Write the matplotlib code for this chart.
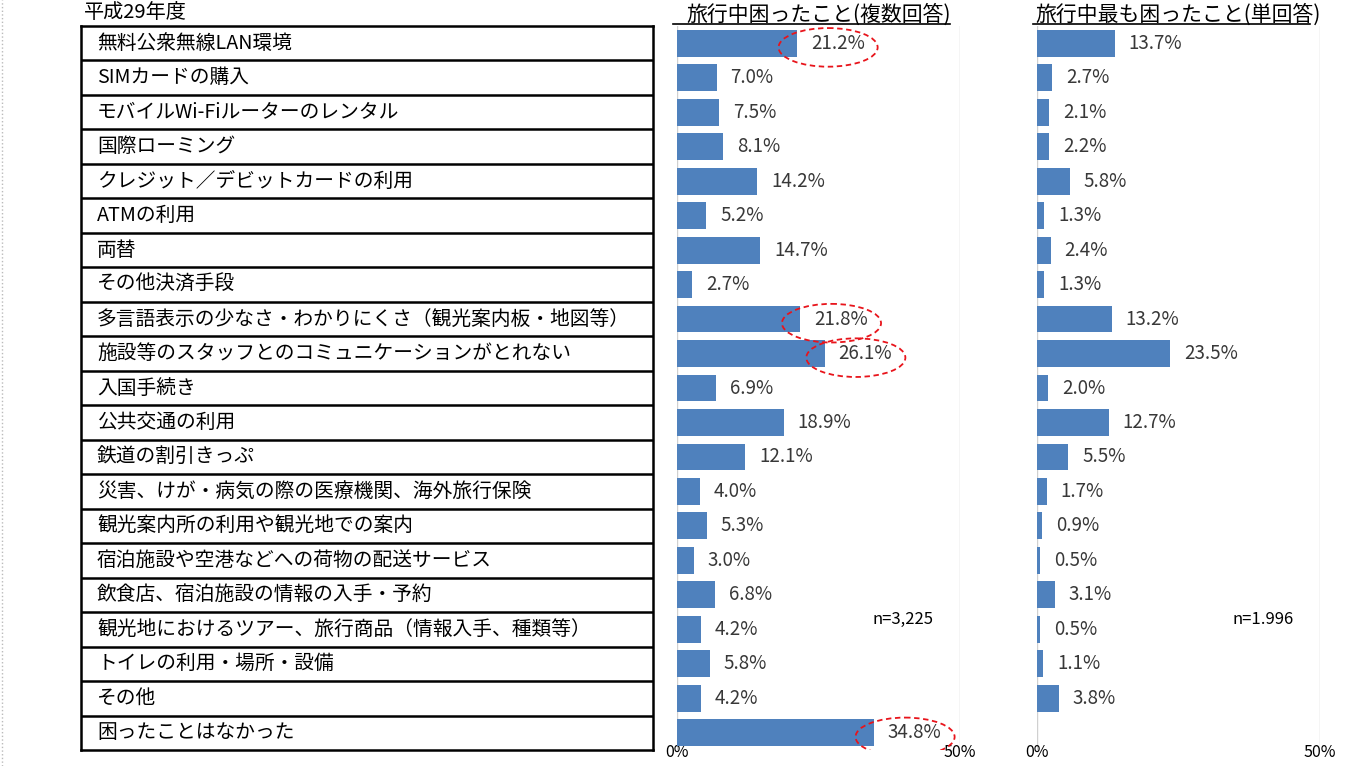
"""Recreate the 平成29年度 travel-trouble bar chart (multi / single answer)."""

import matplotlib.pyplot as plt
from matplotlib.patches import Ellipse
from matplotlib.lines import Line2D

plt.rcParams["font.family"] = ["Noto Sans CJK JP", "DejaVu Sans"]

YEAR_TITLE = "平成29年度"
TITLE_MULTI = "旅行中困ったこと(複数回答)"
TITLE_SINGLE = "旅行中最も困ったこと(単回答)"
N_MULTI = "n=3,225"
N_SINGLE = "n=1.996"

categories = [
    "無料公衆無線LAN環境",
    "SIMカードの購入",
    "モバイルWi-Fiルーターのレンタル",
    "国際ローミング",
    "クレジット／デビットカードの利用",
    "ATMの利用",
    "両替",
    "その他決済手段",
    "多言語表示の少なさ・わかりにくさ（観光案内板・地図等）",
    "施設等のスタッフとのコミュニケーションがとれない",
    "入国手続き",
    "公共交通の利用",
    "鉄道の割引きっぷ",
    "災害、けが・病気の際の医療機関、海外旅行保険",
    "観光案内所の利用や観光地での案内",
    "宿泊施設や空港などへの荷物の配送サービス",
    "飲食店、宿泊施設の情報の入手・予約",
    "観光地におけるツアー、旅行商品（情報入手、種類等）",
    "トイレの利用・場所・設備",
    "その他",
    "困ったことはなかった",
]
multi_values = [21.2, 7.0, 7.5, 8.1, 14.2, 5.2, 14.7, 2.7, 21.8, 26.1, 6.9,
                18.9, 12.1, 4.0, 5.3, 3.0, 6.8, 4.2, 5.8, 4.2, 34.8]
single_values = [13.7, 2.7, 2.1, 2.2, 5.8, 1.3, 2.4, 1.3, 13.2, 23.5, 2.0,
                 12.7, 5.5, 1.7, 0.9, 0.5, 3.1, 0.5, 1.1, 3.8]
# rows of the multi-answer chart whose labels are circled in red
highlight_rows = [0, 8, 9, 20]

BAR_COLOR = "#4F81BD"
GRID_COLOR = "#D0D0D0"
W, H = 1367, 766


def fig_rect(x0, y0, x1, y1):
    """Pixel box (top-left origin) -> figure fraction rect."""
    return [x0 / W, 1 - y1 / H, (x1 - x0) / W, (y1 - y0) / H]


def draw_bars(ax, values, title, n_text, highlights=()):
    n_rows = len(categories)
    rows = list(range(len(values)))
    ax.barh(rows, values, height=0.78, color=BAR_COLOR, zorder=2)
    ax.set_xlim(0, 50)
    ax.set_ylim(n_rows - 0.5, -0.5)
    for x in (0, 50):
        ax.axvline(x, color=GRID_COLOR, lw=1.0, zorder=1)
    for s in ax.spines.values():
        s.set_visible(False)
    ax.set_yticks([])
    ax.set_xticks([0, 50])
    ax.set_xticklabels(["0%", "50%"], fontsize=11.5)
    ax.tick_params(axis="x", length=0, pad=-4)

    for row, val in zip(rows, values):
        ax.annotate(f"{val:.1f}%", (val, row), xytext=(10, 0),
                    textcoords="offset points", ha="left", va="center",
                    fontsize=13.5, color="#383838")

    for row in highlights:
        val = values[row]
        ax.add_patch(Ellipse((val + 5.5, row + 0.12), width=17.5, height=1.12,
                             fill=False, ec="#E8141B", ls=(0, (3, 2)),
                             lw=1.3, zorder=3))

    ax.text(0.69, 0.18, n_text, transform=ax.transAxes, ha="left",
            va="center", fontsize=12)
    ax.text(0.5, 1.0, title, transform=ax.transAxes, ha="center",
            va="bottom", fontsize=15)
    ax.add_line(Line2D([-0.015, 0.965], [1.003, 1.003],
                       transform=ax.transAxes, color="black", lw=1.2,
                       clip_on=False))


fig = plt.figure(figsize=(W / 100, H / 100), dpi=100)

# category table on the left
ax_tab = fig.add_axes(fig_rect(81, 26, 653, 750))
n_rows = len(categories)
ax_tab.set_xlim(0, 1)
ax_tab.set_ylim(n_rows - 0.5, -0.5)
ax_tab.set_xticks([])
ax_tab.set_yticks([])
for s in ax_tab.spines.values():
    s.set_linewidth(1.8)
for i in range(n_rows - 1):
    ax_tab.axhline(i + 0.5, color="black", lw=1.8)
for i, label in enumerate(categories):
    ax_tab.text(0.028, i, label, ha="left", va="center", fontsize=14.2)
ax_tab.text(0.005, -0.58, YEAR_TITLE, ha="left", va="bottom", fontsize=14.5)

ax_multi = fig.add_axes(fig_rect(677, 26, 960, 750))
draw_bars(ax_multi, multi_values, TITLE_MULTI, N_MULTI, highlight_rows)

ax_single = fig.add_axes(fig_rect(1037, 26, 1320, 750))
draw_bars(ax_single, single_values, TITLE_SINGLE, N_SINGLE)

# faint dotted frame line at the left edge
fig.add_artist(Line2D([2 / W, 2 / W], [0, 1], color="#BBBBBB", lw=1,
                      ls=":", transform=fig.transFigure))

fig.savefig("out.png", dpi=100)
